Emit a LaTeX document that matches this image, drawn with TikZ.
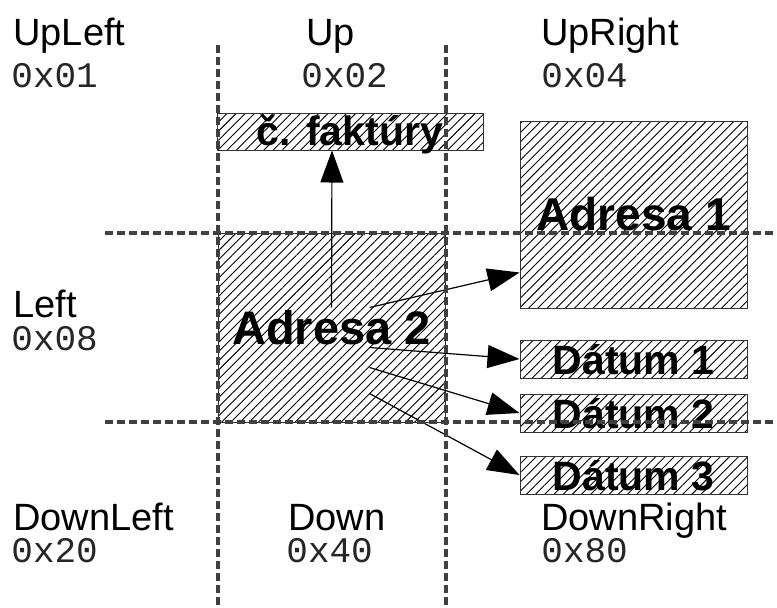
\documentclass[tikz,border=0pt]{standalone}
\usepackage{fontspec}
\setmainfont{Liberation Sans}
\setmonofont{Liberation Mono}
\usetikzlibrary{positioning, arrows.meta, patterns.meta}
\definecolor{cGrid}{HTML}{404040}
\definecolor{cEdge}{HTML}{333333}
\tikzset{
  hatchbox/.style={
    draw=cEdge, line width=0.5pt, inner sep=0pt,
    pattern={Lines[angle=45, distance=3.25pt, line width=0.45pt]},
    font=\bfseries\fontsize{#1}{#1}\selectfont
  },
  flatbox/.style={
    minimum width=113.5pt, text height=17pt, text depth=2pt
  },
  bigbox/.style={
    minimum width=113.5pt, minimum height=#1
  },
}

\begin{document}
\begin{tikzpicture}[
  x=0.5pt, y=-0.5pt,
  grid/.style={
    cGrid, line width=2pt, dash pattern=on 3.75pt off 2.25pt
  },
  lbl/.style={
    anchor=base west, inner sep=0pt, text depth=0pt,
    font=\fontsize{19}{19}\selectfont
  },
  hex/.style={
    anchor=base west, inner sep=0pt, text height=11pt, text depth=0pt,
    text=black!85, font=\ttfamily\fontsize{18}{18}\selectfont
  },
  fl/.style={
    -{Triangle[length=16pt, width=11.5pt]}, line width=0.6pt
  },
]
\useasboundingbox (0,0) rectangle (777,607);

% top row
\node[lbl] (ul) at (13,45) {UpLeft};
\node[hex] (ulx) at (11,87) {0x01};
\node[lbl] (up) at (306,45) {Up};
\node[hex] (upx) at (301,87) {0x02};
\node[lbl] (ur) at (541,45) {UpRight};
\node[hex] (urx) at (541,87) {0x04};

% middle row
\node[lbl] (lf) at (13,317) {Left};
\node[hex] (lfx) at (11,350) {0x08};

% bottom row
\node[lbl] (dl) at (13,530) {DownLeft};
\node[hex] (dlx) at (11,562) {0x20};
\node[lbl] (dn) at (288,530) {Down};
\node[hex] (dnx) at (286,562) {0x40};
\node[lbl] (dr) at (541,530) {DownRight};
\node[hex] (drx) at (541,562) {0x80};

% hatched boxes
\node[hatchbox=23.5, bigbox=94.5pt] (adr2) at (331.5,327.5) {Adresa 2};
\node[hatchbox=20.5, minimum width=133pt, text height=16pt, text depth=2.5pt]
  (fak) at (350,131.5) {č. faktúry};
\node[hatchbox=23, bigbox=93.5pt] (adr1) at (633.5,214.5) {Adresa 1};
\node[hatchbox=20.5, flatbox, below=15.5pt of adr1] (dat1) {Dátum 1};
\node[hatchbox=20.5, flatbox, below=7.5pt of dat1] (dat2) {Dátum 2};
\node[hatchbox=20.5, flatbox, below=11.5pt of dat2] (dat3) {Dátum 3};

% links out of Adresa 2
\draw[fl] ([yshift=10pt]adr2.center) -- ([xshift=-9pt]fak.south);
\draw[fl] ([xshift=19pt,yshift=10pt]adr2.center) -- ([yshift=18pt]adr1.south west);
\draw[fl] ([xshift=19pt,yshift=-10pt]adr2.center) -- (dat1.west);
\draw[fl] ([xshift=19pt,yshift=-20pt]adr2.center) -- (dat2.west);
\draw[fl] ([xshift=19pt,yshift=-33pt]adr2.center) -- (dat3.west);

% region borders
\draw[grid] (218,45) -- (218,607);
\draw[grid] (446,45) -- (446,607);
\draw[grid] (105,233) -- (777,233);
\draw[grid] (105,422) -- (777,422);

\end{tikzpicture}
\end{document}
